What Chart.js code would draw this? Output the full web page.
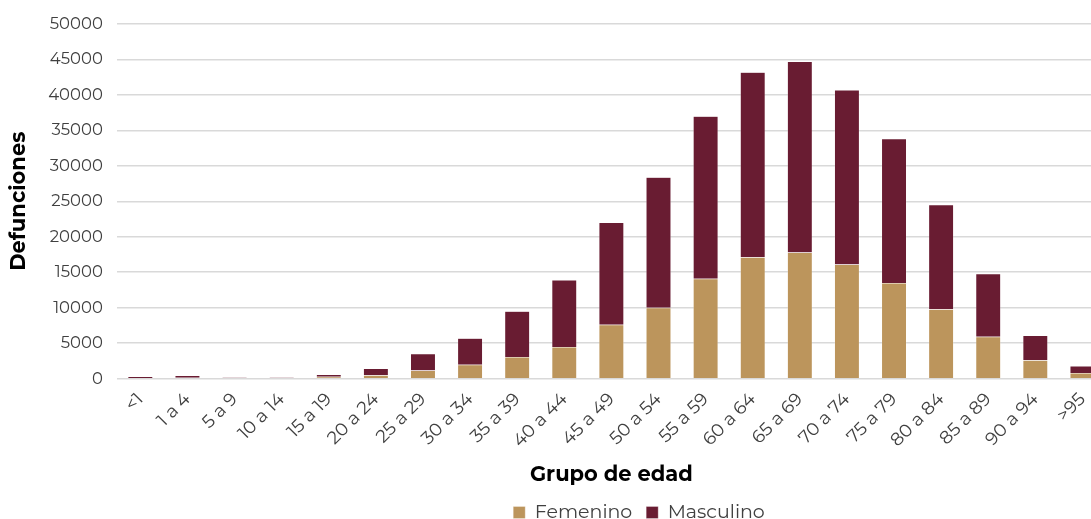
<!DOCTYPE html>
<html>
<head>
<meta charset="utf-8">
<script src="https://cdn.jsdelivr.net/npm/chart.js@4"></script>
<style>
  html, body { margin: 0; padding: 0; background: #fff; overflow: hidden; }
  #wrap { width: 1272px; height: 532px; }
</style>
</head>
<body>
<div id="wrap"><canvas id="chart"></canvas></div>
<script>
// Defunciones por grupo de edad y sexo

const ageGroups = ['<1', '1 a 4', '5 a 9', '10 a 14', '15 a 19', '20 a 24', '25 a 29',
  '30 a 34', '35 a 39', '40 a 44', '45 a 49', '50 a 54', '55 a 59', '60 a 64',
  '65 a 69', '70 a 74', '75 a 79', '80 a 84', '85 a 89', '90 a 94', '>95'];

const femenino = [100, 120, 80, 80, 280, 500, 1170, 1970, 3050, 4450, 7600, 10000,
  14100, 17100, 17800, 16100, 13500, 9800, 5900, 2600, 800];

const masculino = [200, 330, 120, 130, 320, 950, 2330, 3730, 6450, 9450, 14400, 18400,
  22900, 26100, 26900, 24600, 20300, 14700, 8900, 3500, 1000];

const yTicks = { min: 0, max: 50000, step: 5000 };

const FONT = 'Montserrat, "Open Sans", sans-serif';
const TEXT = '#404040';

function barSet(label, data, color) {
  return {
    label,
    data,
    backgroundColor: color,
    borderColor: 'rgba(255,255,255,0.6)',
    borderWidth: 0.5,
    categoryPercentage: 1,
    barPercentage: 0.53,
  };
}

// a bit more room between the two legend entries
function legendLabels(chart) {
  const items = Chart.defaults.plugins.legend.labels.generateLabels(chart);
  return items.map((it, i) => (i < items.length - 1 ? { ...it, text: it.text + '  ' } : it));
}

const ctx = document.getElementById('chart').getContext('2d');
new Chart(ctx, {
  type: 'bar',
  data: {
    labels: ageGroups,
    datasets: [
      barSet('Femenino', femenino, '#BC955C'),
      barSet('Masculino', masculino, '#691C32'),
    ],
  },
  options: {
    animation: false,
    responsive: true,
    maintainAspectRatio: false,
    layout: { padding: { left: 6, top: 9, right: 0, bottom: 0 } },
    plugins: {
      legend: {
        position: 'bottom',
        labels: {
          color: TEXT,
          font: { size: 19, family: FONT },
          boxWidth: 12,
          boxHeight: 12,
          padding: 4,
          generateLabels: legendLabels,
        },
      },
      tooltip: { enabled: false },
    },
    scales: {
      x: {
        stacked: true,
        grid: { display: false },
        border: { display: false },
        ticks: {
          color: TEXT,
          font: { size: 18, family: FONT },
          minRotation: 45,
          maxRotation: 45,
          autoSkip: false,
          padding: 2,
        },
        title: {
          display: true,
          text: 'Grupo de edad',
          color: '#000',
          font: { size: 21, weight: 'bold', family: FONT },
          padding: { top: 8, bottom: 12 },
        },
      },
      y: {
        stacked: true,
        min: yTicks.min,
        max: yTicks.max,
        grid: { color: '#d9d9d9', lineWidth: 1.5, drawTicks: false },
        border: { display: false },
        ticks: {
          stepSize: yTicks.step,
          color: TEXT,
          padding: 14,
          font: { size: 16.5, family: FONT },
          callback: (v) => String(v),
        },
        title: {
          display: true,
          text: 'Defunciones',
          color: '#000',
          font: { size: 21, weight: 'bold', family: FONT },
          padding: { top: 0, bottom: 3 },
        },
      },
      // empty spacer on the right: the original plot runs past the cropped edge
      spacer: {
        type: 'linear',
        position: 'right',
        display: true,
        grid: { display: false },
        border: { display: false },
        ticks: { display: false },
        afterFit: (axis) => { axis.width = 166; },
      },
    },
  },
});
</script>
</body>
</html>
